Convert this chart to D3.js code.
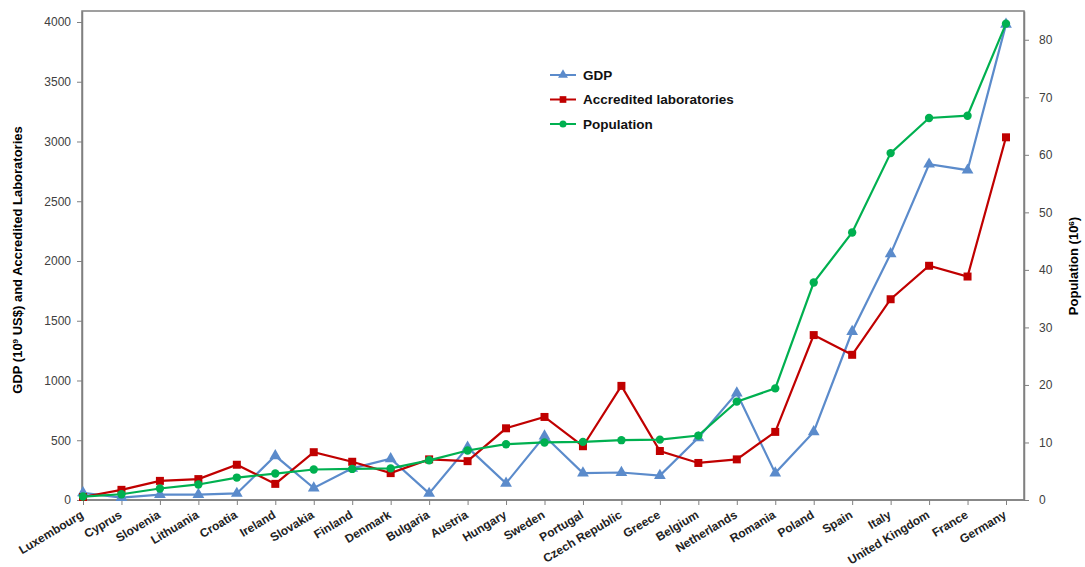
<!DOCTYPE html>
<html>
<head>
<meta charset="utf-8">
<script src="https://cdn.jsdelivr.net/npm/d3@7"></script>
<style>
body { margin: 0; background: #fff; }
text { font-family: "Liberation Sans", Arial, sans-serif; }
</style>
</head>
<body>
<svg width="1085" height="567"></svg>
<script>
var countries = ["Luxembourg", "Cyprus", "Slovenia", "Lithuania", "Croatia", "Ireland", "Slovakia", "Finland",
	"Denmark", "Bulgaria", "Austria", "Hungary", "Sweden", "Portugal", "Czech Republic", "Greece", "Belgium",
	"Netherlands", "Romania", "Poland", "Spain", "Italy", "United Kingdom", "France", "Germany"];
var gdp = [60, 20, 45, 45, 55, 370, 100, 265, 345, 55, 440, 140, 535, 225, 230, 205, 520, 895, 225, 570, 1410, 2060, 2810, 2760, 3980];
var labs = [25, 85, 160, 175, 295, 135, 400, 320, 225, 340, 325, 600, 695, 450, 955, 410, 310, 340, 570, 1380, 1215, 1680, 1960, 1870, 3035];
var population = [0.6, 1.0, 2.0, 2.7, 3.9, 4.6, 5.3, 5.4, 5.5, 6.9, 8.6, 9.7, 10.0, 10.1, 10.4, 10.5, 11.2, 17.1, 19.4, 37.8, 46.5, 60.3, 66.4, 66.8, 82.8];
var leftTicks = [0, 500, 1000, 1500, 2000, 2500, 3000, 3500, 4000];
var rightTicks = [0, 10, 20, 30, 40, 50, 60, 70, 80];

var svg = d3.select("svg"),
	plotL = 82, plotR = 1024, plotT = 11, plotB = 500;

var x = d3.scalePoint().domain(countries).range([83, 1006]);
var yL = d3.scaleLinear().domain([0, 4092]).range([plotB, plotT]);
var yR = d3.scaleLinear().domain([0, 85]).range([plotB, plotT]);

// frame
svg.append("rect").attr("x", plotL).attr("y", plotT).attr("width", plotR - plotL).attr("height", plotB - plotT)
	.attr("fill", "none").attr("stroke", "#808080").attr("stroke-width", 1.5);

function styleAxis(g) {
	g.selectAll(".domain").attr("stroke", "#808080").attr("stroke-width", 1.5);
	g.selectAll(".tick line").attr("stroke", "#808080");
	g.selectAll(".tick text").attr("fill", "#404040").style("font-size", "12px");
}

svg.append("g").attr("transform", "translate(" + plotL + ",0)")
	.call(d3.axisLeft(yL).tickValues(leftTicks).tickFormat(d3.format("d")).tickSize(5).tickPadding(6).tickSizeOuter(0))
	.call(styleAxis);

svg.append("g").attr("transform", "translate(" + plotR + ",0)")
	.call(d3.axisRight(yR).tickValues(rightTicks).tickSize(5).tickPadding(10).tickSizeOuter(0))
	.call(styleAxis);

var xg = svg.append("g").attr("transform", "translate(0," + plotB + ")")
	.call(d3.axisBottom(x).tickSize(5).tickSizeOuter(0))
	.call(styleAxis);
xg.select(".domain").attr("d", "M" + plotL + ",0H" + plotR);
xg.selectAll(".tick text")
	.attr("fill", "#222")
	.style("font-size", "12px")
	.style("font-weight", "bold")
	.attr("text-anchor", "end")
	.attr("transform", "translate(-7,4) rotate(-31)")
	.attr("dy", "0.6em")
	.attr("dx", "0");

// axis titles
svg.append("text")
	.attr("transform", "translate(22,260) rotate(-90)")
	.attr("text-anchor", "middle")
	.style("font-family", "'Liberation Sans Narrow', 'Liberation Sans', Arial, sans-serif")
	.style("font-weight", "bold").style("font-size", "13px")
	.html("GDP (10<tspan baseline-shift='super' font-size='8px'>9</tspan> US$) and Accredited Laboratories");

svg.append("text")
	.attr("transform", "translate(1078,266) rotate(-90)")
	.attr("text-anchor", "middle")
	.style("font-family", "'Liberation Sans Narrow', 'Liberation Sans', Arial, sans-serif")
	.style("font-weight", "bold").style("font-size", "13px")
	.html("Population (10<tspan baseline-shift='super' font-size='8px'>6</tspan>)");

var series = [
	{ name: "GDP", values: gdp, y: yL, color: "#5B8BCB", symbol: d3.symbolTriangle, size: 60 },
	{ name: "Accredited laboratories", values: labs, y: yL, color: "#C00000", symbol: d3.symbolSquare, size: 64 },
	{ name: "Population", values: population, y: yR, color: "#00B050", symbol: d3.symbolCircle, size: 55 }
];

series.forEach(function(s) {
	var line = d3.line()
		.x(function(d, i) { return x(countries[i]); })
		.y(function(d) { return s.y(d); });
	svg.append("path").datum(s.values)
		.attr("d", line)
		.attr("fill", "none")
		.attr("stroke", s.color)
		.attr("stroke-width", 2.2);
	svg.append("g").selectAll("path")
		.data(s.values)
		.enter().append("path")
		.attr("d", d3.symbol().type(s.symbol).size(s.size))
		.attr("transform", function(d, i) { return "translate(" + x(countries[i]) + "," + s.y(d) + ")"; })
		.attr("fill", s.color);
});

// legend
var legend = svg.append("g").attr("transform", "translate(550,75)");
series.forEach(function(s, i) {
	var row = legend.append("g").attr("transform", "translate(0," + (i * 24.5) + ")");
	row.append("line").attr("x1", 0).attr("x2", 26).attr("stroke", s.color).attr("stroke-width", 2);
	row.append("path").attr("d", d3.symbol().type(s.symbol).size(s.size * 0.7))
		.attr("transform", "translate(13,0)").attr("fill", s.color);
	row.append("text").attr("x", 33).attr("dy", "0.35em")
		.style("font-size", "13.5px").style("font-weight", "bold").attr("fill", "#111")
		.text(s.name);
});
</script>
</body>
</html>
